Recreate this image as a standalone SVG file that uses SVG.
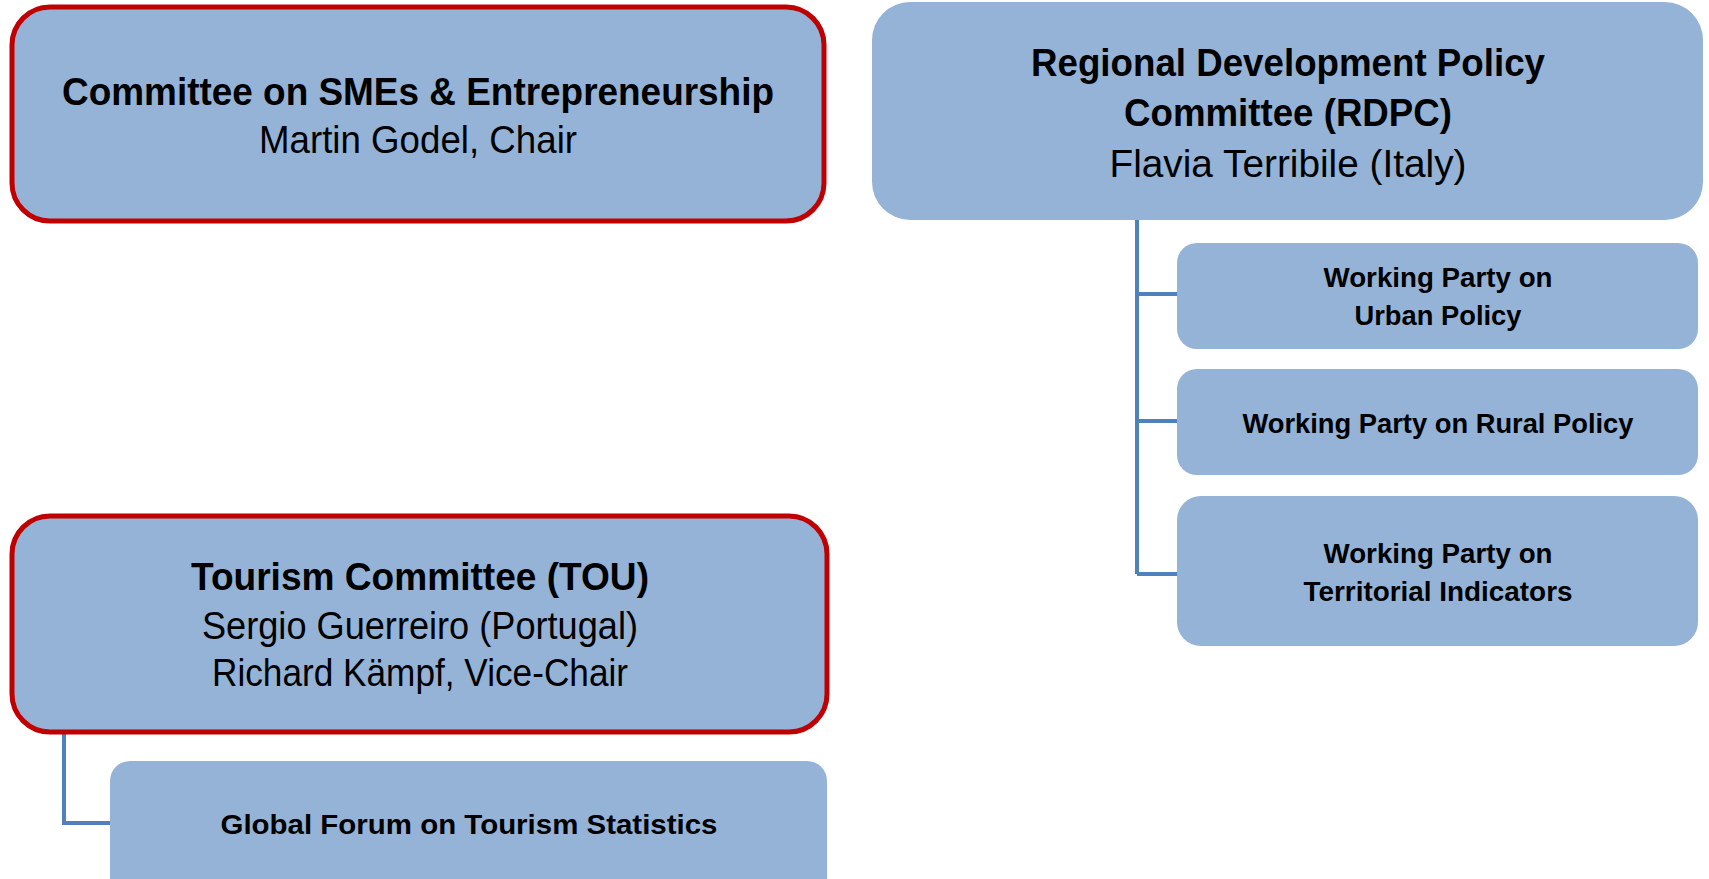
<svg xmlns="http://www.w3.org/2000/svg" width="1709" height="879" viewBox="0 0 1709 879">
<style>
.box{fill:#95B3D7;}
.red{stroke:#C00000;stroke-width:5;}
.t{font-family:"Liberation Sans",Arial,sans-serif;fill:#000;text-anchor:middle;}
.big{font-size:38px;}
.b{font-weight:bold;}
.sm{font-size:27px;font-weight:bold;}
.conn{stroke:#4F81BD;stroke-width:4;fill:none;}
</style>
<rect width="1709" height="879" fill="#fff"/>
<g id="connectors">
<path class="conn" d="M1137,220 V574 M1137,294 H1177 M1137,421 H1177 M1137,574 H1177"/>
<path class="conn" d="M64,733 V823 H110"/>
</g>
<g id="sme">
<rect class="box red" x="12" y="7" width="812" height="214" rx="38"/>
<text class="t big b" x="418" y="105" textLength="712" lengthAdjust="spacingAndGlyphs">Committee on SMEs &amp; Entrepreneurship</text>
<text class="t big" x="418" y="153" textLength="318" lengthAdjust="spacingAndGlyphs">Martin Godel, Chair</text>
</g>
<g id="rdpc">
<rect class="box" x="872" y="2" width="831" height="218" rx="38"/>
<text class="t big b" x="1288" y="76" textLength="514" lengthAdjust="spacingAndGlyphs">Regional Development Policy</text>
<text class="t big b" x="1288" y="126" textLength="328" lengthAdjust="spacingAndGlyphs">Committee (RDPC)</text>
<text class="t big" x="1288" y="177" textLength="357" lengthAdjust="spacingAndGlyphs">Flavia Terribile (Italy)</text>
</g>
<g id="wp-urban">
<rect class="box" x="1177" y="243" width="521" height="106" rx="20"/>
<text class="t sm" x="1438" y="287" textLength="229" lengthAdjust="spacingAndGlyphs">Working Party on</text>
<text class="t sm" x="1438" y="325" textLength="167" lengthAdjust="spacingAndGlyphs">Urban Policy</text>
</g>
<g id="wp-rural">
<rect class="box" x="1177" y="369" width="521" height="106" rx="20"/>
<text class="t sm" x="1438" y="433" textLength="391" lengthAdjust="spacingAndGlyphs">Working Party on Rural Policy</text>
</g>
<g id="wp-territorial">
<rect class="box" x="1177" y="496" width="521" height="150" rx="24"/>
<text class="t sm" x="1438" y="563" textLength="229" lengthAdjust="spacingAndGlyphs">Working Party on</text>
<text class="t sm" x="1438" y="601" textLength="269" lengthAdjust="spacingAndGlyphs">Territorial Indicators</text>
</g>
<g id="tou">
<rect class="box red" x="12" y="516" width="815" height="216" rx="38"/>
<text class="t big b" x="420" y="590" textLength="458" lengthAdjust="spacingAndGlyphs">Tourism Committee (TOU)</text>
<text class="t big" x="420" y="639" textLength="436" lengthAdjust="spacingAndGlyphs">Sergio Guerreiro (Portugal)</text>
<text class="t big" x="420" y="686" textLength="416" lengthAdjust="spacingAndGlyphs">Richard Kämpf, Vice-Chair</text>
</g>
<g id="gfts">
<rect class="box" x="110" y="761" width="717" height="140" rx="20"/>
<text class="t sm" x="469" y="834" textLength="497" lengthAdjust="spacingAndGlyphs">Global Forum on Tourism Statistics</text>
</g>
</svg>
